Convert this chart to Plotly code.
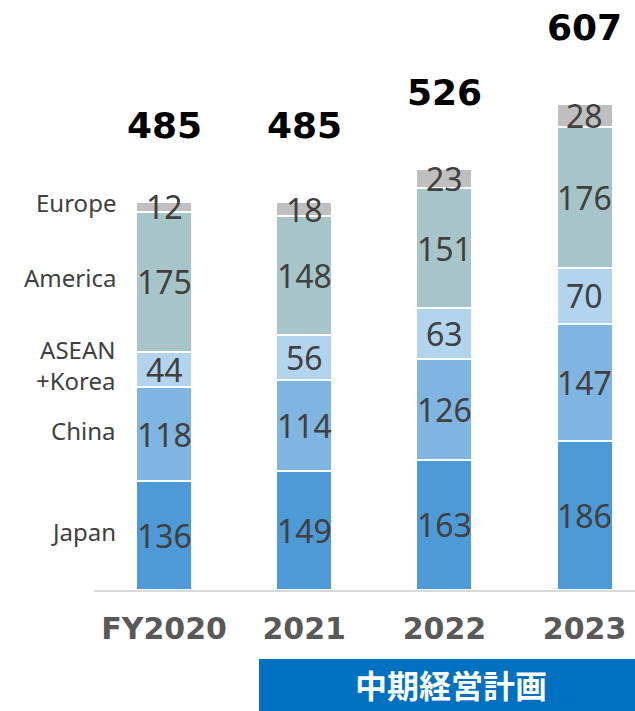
import plotly.graph_objects as go

years = ["FY2020", "2021", "2022", "2023"]
regions = ["Japan", "China", "ASEAN<br>+Korea", "America", "Europe"]
japan = [136, 149, 163, 186]
china = [118, 114, 126, 147]
asean = [44, 56, 63, 70]
america = [175, 148, 151, 176]
europe = [12, 18, 23, 28]
series = [japan, china, asean, america, europe]
colors = ["#4D9AD6", "#7FB5E0", "#B3D4EE", "#A7C5C9", "#BFBFBF"]
banner_text = "中期経営計画"

fig = go.Figure()
for name, vals, col in zip(regions, series, colors):
    fig.add_trace(go.Bar(x=years, y=vals, name=name, width=0.4,
                         marker=dict(color=col, line=dict(color="white", width=2))))

annotations = []
cum = [0] * len(years)
for si, vals in enumerate(series):
    for i, v in enumerate(vals):
        center = cum[i] + v / 2
        annotations.append(dict(x=i, y=center, text=str(v), showarrow=False,
                                font=dict(family="Noto Sans", size=32, color="#404040"),
                                xanchor="center", yanchor="middle"))
        if i == 0:
            annotations.append(dict(x=0, y=center, text=regions[si], showarrow=False,
                                    font=dict(family="Noto Sans", size=24, color="#404040"),
                                    xanchor="right", yanchor="middle", align="right",
                                    xshift=-46, yshift=4))
        cum[i] += v

for i, t in enumerate(cum):
    annotations.append(dict(x=i, y=t, text="<b>%d</b>" % t, showarrow=False,
                            font=dict(family="DejaVu Sans", size=36, color="#000000"),
                            xanchor="center", yanchor="middle", yshift=77))

annotations.append(dict(x=(451 - 94) / 541, y=-(684 - 590) / 590, xref="paper", yref="paper",
                        text="<b>" + banner_text + "</b>", showarrow=False,
                        font=dict(family="Noto Sans CJK JP", size=32, color="white"),
                        xanchor="center", yanchor="middle"))

fig.update_layout(
    width=635, height=711,
    margin=dict(l=94, r=0, t=0, b=121),
    barmode="stack",
    showlegend=False,
    plot_bgcolor="white", paper_bgcolor="white",
    annotations=annotations,
    shapes=[dict(type="rect", xref="paper", yref="paper",
                 x0=(259 - 94) / 541, x1=1.0,
                 y0=-(711 - 590) / 590, y1=-(659 - 590) / 590,
                 fillcolor="#0070C0", line=dict(width=0), layer="above")],
    xaxis=dict(range=[-0.5, 3.36], showline=True, linecolor="#D9D9D9", linewidth=2,
               showgrid=False, ticks="", ticklabelstandoff=11,
               tickfont=dict(family="DejaVu Sans", size=30, color="#595959", weight="bold")),
    yaxis=dict(range=[0, 737.5], visible=False, showgrid=False),
)
fig.write_html("out.html")
